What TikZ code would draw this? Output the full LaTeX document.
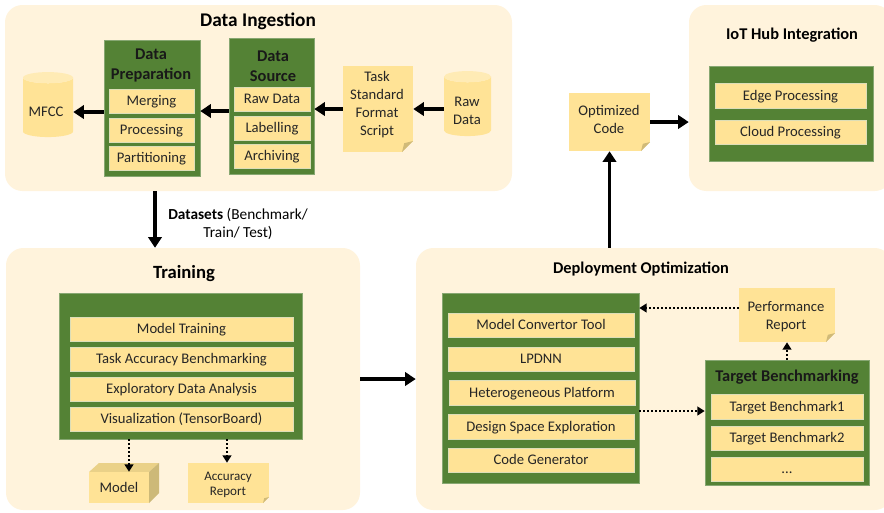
\documentclass[tikz,border=0pt]{standalone}
\usepackage{fontspec}
\setmainfont{Carlito}
\usetikzlibrary{arrows.meta,shapes.geometric}
\definecolor{panelcol}{RGB}{255,243,220}
\definecolor{greencol}{RGB}{84,130,53}
\definecolor{itemcol}{RGB}{255,227,150}
\definecolor{foldcol}{RGB}{208,186,120}
\definecolor{sidecol}{RGB}{205,185,120}
\tikzset{
  wh/.style 2 args={minimum width=#1*0.75pt,minimum height=#2*0.75pt,inner sep=0pt},
  panel/.style={fill=panelcol,rounded corners=13pt},
  greenbox/.style={fill=greencol,draw=greencol!70!white,line width=0.4pt},
  itembox/.style={fill=itemcol,draw=itemcol!60!greencol!50!white,line width=0.4pt,align=center,font=\fontsize{11}{13.5}\selectfont,text=black!85,text height=7.5pt,text depth=0.5pt},
  title/.style={font=\fontsize{14.5}{15}\selectfont\bfseries,align=center},
  subtitle/.style={font=\fontsize{12.3}{15}\selectfont\bfseries,align=center},
  boxtitle/.style={font=\fontsize{12.3}{15}\selectfont\bfseries,align=center,text=black!90},
  shapetext/.style={align=center,font=\fontsize{11}{13.5}\selectfont,text=black!85},
  notebox/.style 2 args={fill=itemcol,
    path picture={
      \fill[#2] ([xshift=-#1*0.75pt]path picture bounding box.south east) -- (path picture bounding box.south east) -- ([yshift=#1*0.75pt]path picture bounding box.south east) -- cycle;
      \fill[foldcol] ([xshift=-#1*0.75pt]path picture bounding box.south east) -- ([yshift=#1*0.75pt]path picture bounding box.south east) -- ([xshift=-#1*0.6pt,yshift=#1*0.6pt]path picture bounding box.south east) -- cycle;
    }},
  drum/.style={cylinder,shape border rotate=90,aspect=0.35,cylinder uses custom fill,cylinder body fill=itemcol,cylinder end fill=itemcol!70!white,text width=24pt,text height=10pt},
  bigarrow/.style={line width=2.5pt,-{Triangle[length=8pt,width=10pt]}},
  dotarrow/.style={line width=1.5pt,dash pattern=on 1.5pt off 1.5pt,-{Triangle[length=5.5pt,width=6.5pt]}}
}
\begin{document}
\begin{tikzpicture}[x=0.75pt,y=0.75pt,yscale=-1,xscale=1]
\useasboundingbox (0,0) rectangle (884,512);
\clip (0,0) rectangle (884,512);

%Panels
\node [panel,wh={507}{186}] (ingest) at (258.5,98) {};
\node [panel,wh={354}{262}] (training) at (183,379) {};
\node [panel,wh={476}{262}] (deploy) at (654,379) {};
\node [panel,wh={203}{186}] (iot) at (790.5,98) {};

% Text Node
\node [title] (ingesttitle) at (258,21) {Data Ingestion};
\node [title,font=\fontsize{14}{15}\selectfont\bfseries] (trainingtitle) at (184,274) {Training};
\node [subtitle] (deploytitle) at (641,269) {Deployment Optimization};
\node [subtitle] (iottitle) at (792,35) {IoT Hub Integration};

%Data Ingestion
\node [drum,wh={50}{65}] (mfcc) at (48,107.5) {};
\node [shapetext] (mfcctext) at (46,112) {MFCC};
\node [greenbox,wh={96}{136}] (prepbox) at (152,108) {};
\node [boxtitle] (preptitle) at (151,65) {Data\\Preparation};
\node [itembox,wh={85}{24}] (merging) at (151.5,101) {Merging};
\node [itembox,wh={85}{24}] (processing) at (151.5,130) {Processing};
\node [itembox,wh={85}{24}] (partitioning) at (151.5,158) {Partitioning};
\node [greenbox,wh={85}{136}] (sourcebox) at (271.5,106) {};
\node [boxtitle] (sourcetitle) at (273,66) {Data\\Source};
\node [itembox,wh={76}{24}] (rawitem) at (272,99) {Raw Data};
\node [itembox,wh={76}{24}] (labelling) at (272,128) {Labelling};
\node [itembox,wh={76}{24}] (archiving) at (272,156) {Archiving};
\node [notebox={11}{panelcol},wh={70}{86}] (script) at (378,109) {};
\node [shapetext] (scripttext) at (377,105) {Task\\Standard\\Format\\Script};
\node [drum,wh={47}{65}] (rawdata) at (467.5,106.5) {};
\node [shapetext] (rawdatatext) at (467,111) {Raw\\Data};

\coordinate (prepy) at (90,112);
\coordinate (sourcey) at (215,111);
\draw [bigarrow] (prepbox.west |- prepy) -- (mfcc.east |- prepy);
\draw [bigarrow] (sourcebox.west |- sourcey) -- (prepbox.east |- sourcey);
\draw [bigarrow] (script.west) -- (sourcebox.east |- script.west);
\draw [bigarrow] (rawdata.west |- script.west) -- (script.east);

%Datasets
\coordinate (datasetx) at (155,220);
\draw [bigarrow] (ingest.south -| datasetx) -- (training.north -| datasetx);
\node [align=center,font=\fontsize{11.5}{13.5}\selectfont] (datasets) at (238,224) {\textbf{Datasets} (Benchmark/\\Train/ Test)};

%Training
\node [greenbox,wh={243}{146}] (trainbox) at (180.5,366) {};
\node [itembox,wh={223}{24}] (modeltraining) at (181.5,329) {Model Training};
\node [itembox,wh={223}{24}] (taskaccuracy) at (181.5,359) {Task Accuracy Benchmarking};
\node [itembox,wh={223}{24}] (exploratory) at (181.5,389) {Exploratory Data Analysis};
\node [itembox,wh={223}{24}] (visualization) at (181.5,419) {Visualization (TensorBoard)};
\fill [itemcol!55!foldcol] (89,472) -- (99,463) -- (159,463) -- (149,472) -- cycle;
\fill [sidecol] (149,472) -- (159,463) -- (159,493) -- (149,503) -- cycle;
\node [fill=itemcol,wh={60}{31},font=\fontsize{11}{13.5}\selectfont,text=black!85] (model) at (119,487.5) {Model};
\node [notebox={6}{panelcol},wh={81}{40}] (accuracy) at (228.5,483) {};
\node [shapetext,font=\fontsize{9.8}{11.25}\selectfont] (accuracytext) at (228,485) {Accuracy\\Report};
\coordinate (modelx) at (129,450);
\coordinate (accuracyx) at (227,450);
\draw [dotarrow] (trainbox.south -| modelx) -- (modelx |- model.north);
\draw [dotarrow] (trainbox.south -| accuracyx) -- (accuracyx |- accuracy.north);

\draw [bigarrow] (training.east) -- (deploy.west);

%Deployment Optimization
\node [greenbox,wh={197}{190}] (deploybox) at (540.5,388) {};
\node [itembox,wh={186}{24}] (convertor) at (541,325) {Model Convertor Tool};
\node [itembox,wh={186}{24}] (lpdnn) at (541,359) {LPDNN};
\node [itembox,wh={186}{25}] (platform) at (542,392.5) {Heterogeneous Platform};
\node [itembox,wh={186}{25}] (designspace) at (541,426.5) {Design Space Exploration};
\node [itembox,wh={186}{24}] (codegen) at (541,460) {Code Generator};
\node [notebox={9}{panelcol},wh={96}{54}] (perfreport) at (787,315) {};
\node [shapetext] (perftext) at (786,317) {Performance\\Report};
\node [greenbox,wh={164}{125}] (targetbox) at (787,422.5) {};
\node [boxtitle] (targettitle) at (787,377) {Target Benchmarking};
\node [itembox,wh={152}{25}] (target1) at (787,406.5) {Target Benchmark1};
\node [itembox,wh={152}{24}] (target2) at (787,438) {Target Benchmark2};
\node [itembox,wh={152}{24}] (target3) at (787,469) {...};
\coordinate (perfy) at (700,308);
\coordinate (targety) at (670,411);
\draw [dotarrow] (perfreport.west |- perfy) -- (deploybox.east |- perfy);
\draw [dotarrow] (deploybox.east |- targety) -- (targetbox.west |- targety);
\draw [dotarrow] (targetbox.north) -- (perfreport.south);

%Optimized code and IoT hub
\node [notebox={9}{white},wh={81}{58}] (optcode) at (609.5,122) {};
\node [shapetext] (optcodetext) at (609,119) {Optimized\\Code};
\draw [bigarrow] (deploy.north -| optcode) -- (optcode.south);
\draw [bigarrow] (optcode.east) -- (iot.west |- optcode.east);
\node [greenbox,wh={164}{95}] (iotbox) at (791,113.5) {};
\node [itembox,wh={151}{25}] (edge) at (790.5,95.5) {Edge Processing};
\node [itembox,wh={151}{24}] (cloud) at (790.5,132) {Cloud Processing};

\end{tikzpicture}
\end{document}
